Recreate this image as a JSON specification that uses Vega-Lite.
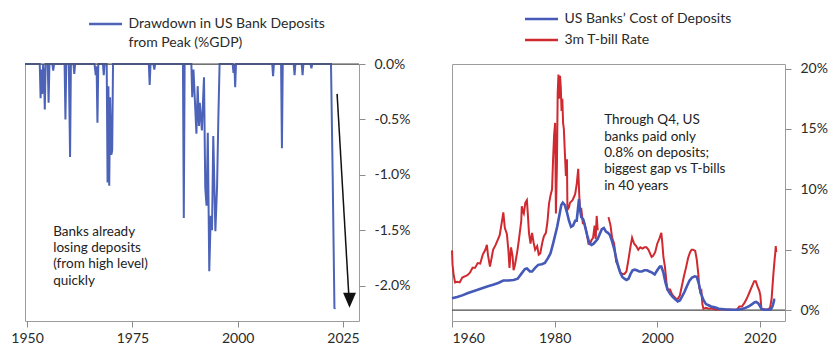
{
  "$schema": "https://vega.github.io/schema/vega-lite/v6.json",
  "padding": {"left": 10, "top": 11, "right": 0, "bottom": 0},
  "background": "white",
  "config": {
    "font": "Lato",
    "view": {"stroke": "#9c9c9c", "strokeWidth": 1},
    "axis": {"grid": false, "domain": false, "tickColor": "#8c8c8c", "tickSize": 6, "labelFont": "Lato", "labelFontSize": 14, "labelColor": "#2a2a2a", "title": null},
    "legend": {"orient": "none", "symbolType": "M-3,0L3,0", "symbolSize": 121, "symbolOffset": 9.5, "symbolStrokeWidth": 2.5, "labelFont": "Lato", "labelFontSize": 14, "labelColor": "#2a2a2a", "labelOffset": 16, "padding": 0, "labelLimit": 400, "title": null}
  },
  "datasets": {
    "drawdown": [
      {"year": 1949.5, "value": 0}, {"year": 1953.0, "value": 0}, {"year": 1953.2, "value": -0.31}, {"year": 1953.4, "value": -0.05}, {"year": 1953.6, "value": -0.27}, {"year": 1953.8, "value": 0},
      {"year": 1954.0, "value": -0.1}, {"year": 1954.2, "value": -0.41}, {"year": 1954.4, "value": 0}, {"year": 1954.9, "value": 0}, {"year": 1955.1, "value": -0.35}, {"year": 1955.3, "value": 0},
      {"year": 1956.0, "value": 0}, {"year": 1956.2, "value": -0.06}, {"year": 1956.4, "value": 0}, {"year": 1958.9, "value": 0}, {"year": 1959.1, "value": -0.5}, {"year": 1959.3, "value": 0},
      {"year": 1959.9, "value": 0}, {"year": 1960.2, "value": -0.84}, {"year": 1960.4, "value": 0}, {"year": 1961.0, "value": 0}, {"year": 1961.2, "value": -0.09}, {"year": 1961.4, "value": 0},
      {"year": 1966.0, "value": 0}, {"year": 1966.3, "value": -0.1}, {"year": 1966.5, "value": -0.02}, {"year": 1966.7, "value": -0.53}, {"year": 1966.9, "value": 0},
      {"year": 1968.0, "value": 0}, {"year": 1968.2, "value": -0.1}, {"year": 1968.4, "value": 0},
      {"year": 1968.9, "value": 0}, {"year": 1969.1, "value": -1.07}, {"year": 1969.3, "value": -0.2}, {"year": 1969.5, "value": -1.1}, {"year": 1969.7, "value": -0.3}, {"year": 1970.0, "value": -0.82}, {"year": 1970.2, "value": -0.78}, {"year": 1970.4, "value": 0},
      {"year": 1978.9, "value": 0}, {"year": 1979.1, "value": -0.19}, {"year": 1979.3, "value": 0}, {"year": 1980.0, "value": 0}, {"year": 1980.2, "value": -0.05}, {"year": 1980.4, "value": 0},
      {"year": 1987.0, "value": 0}, {"year": 1987.2, "value": -1.39}, {"year": 1987.4, "value": 0},
      {"year": 1989.0, "value": 0}, {"year": 1989.2, "value": -0.3}, {"year": 1989.5, "value": -0.05}, {"year": 1990.2, "value": -0.63}, {"year": 1990.5, "value": -0.2}, {"year": 1990.8, "value": -0.56}, {"year": 1991.0, "value": -0.35}, {"year": 1991.5, "value": -0.6}, {"year": 1991.8, "value": -0.3}, {"year": 1992.0, "value": -0.12},
      {"year": 1992.3, "value": -1.12}, {"year": 1992.6, "value": -1.28}, {"year": 1992.9, "value": -0.62}, {"year": 1993.25, "value": -1.87}, {"year": 1993.6, "value": -1.37}, {"year": 1993.9, "value": -1.5}, {"year": 1994.2, "value": -0.65}, {"year": 1994.7, "value": -1.51}, {"year": 1995.1, "value": -1.11}, {"year": 1995.4, "value": -0.5}, {"year": 1995.7, "value": 0},
      {"year": 1998.8, "value": 0}, {"year": 1999.0, "value": -0.08}, {"year": 1999.2, "value": 0}, {"year": 1999.4, "value": -0.21}, {"year": 1999.6, "value": 0},
      {"year": 2008.2, "value": 0}, {"year": 2008.4, "value": -0.11}, {"year": 2008.6, "value": 0}, {"year": 2010.3, "value": 0}, {"year": 2010.5, "value": -0.76}, {"year": 2010.7, "value": 0},
      {"year": 2013.3, "value": 0}, {"year": 2013.5, "value": -0.1}, {"year": 2013.7, "value": 0}, {"year": 2015.2, "value": 0}, {"year": 2015.4, "value": -0.1}, {"year": 2015.6, "value": 0},
      {"year": 2017.3, "value": 0}, {"year": 2017.5, "value": -0.04}, {"year": 2017.7, "value": 0},
      {"year": 2022.15, "value": 0}, {"year": 2022.55, "value": -1.01}, {"year": 2022.97, "value": -2.21}, {"year": 2023.1, "value": -2.2}
    ],
    "tbill": [
      {"year": 1960.0, "value": 4.95}, {"year": 1960.1, "value": 3.8}, {"year": 1960.3, "value": 3.0}, {"year": 1960.6, "value": 2.3}, {"year": 1961.0, "value": 2.35}, {"year": 1961.5, "value": 2.3},
      {"year": 1962.0, "value": 2.7}, {"year": 1962.5, "value": 2.8}, {"year": 1963.0, "value": 2.9}, {"year": 1963.5, "value": 3.1}, {"year": 1964.0, "value": 3.5}, {"year": 1964.5, "value": 3.5},
      {"year": 1965.0, "value": 3.9}, {"year": 1965.5, "value": 3.85}, {"year": 1966.0, "value": 4.6}, {"year": 1966.5, "value": 5.0}, {"year": 1966.8, "value": 5.4}, {"year": 1967.0, "value": 4.6},
      {"year": 1967.4, "value": 3.6}, {"year": 1967.8, "value": 4.5}, {"year": 1968.0, "value": 5.0}, {"year": 1968.5, "value": 5.4}, {"year": 1968.9, "value": 5.8}, {"year": 1969.3, "value": 6.2},
      {"year": 1969.6, "value": 7.0}, {"year": 1969.9, "value": 7.8}, {"year": 1970.0, "value": 8.1}, {"year": 1970.3, "value": 6.8}, {"year": 1970.7, "value": 6.3}, {"year": 1971.0, "value": 4.9},
      {"year": 1971.2, "value": 3.5}, {"year": 1971.5, "value": 5.2}, {"year": 1971.8, "value": 4.5}, {"year": 1972.0, "value": 3.3}, {"year": 1972.3, "value": 3.8}, {"year": 1972.7, "value": 4.8},
      {"year": 1973.0, "value": 5.7}, {"year": 1973.5, "value": 7.4}, {"year": 1973.6, "value": 8.6}, {"year": 1973.8, "value": 8.2}, {"year": 1974.0, "value": 8.0}, {"year": 1974.3, "value": 8.9},
      {"year": 1974.6, "value": 9.1}, {"year": 1974.8, "value": 7.8}, {"year": 1975.0, "value": 6.4}, {"year": 1975.3, "value": 5.5}, {"year": 1975.6, "value": 6.4}, {"year": 1975.9, "value": 5.6},
      {"year": 1976.2, "value": 5.0}, {"year": 1976.6, "value": 5.3}, {"year": 1976.9, "value": 4.6}, {"year": 1977.2, "value": 4.7}, {"year": 1977.6, "value": 5.6}, {"year": 1977.9, "value": 6.1},
      {"year": 1978.3, "value": 6.4}, {"year": 1978.6, "value": 7.3}, {"year": 1978.9, "value": 8.8}, {"year": 1979.2, "value": 9.5}, {"year": 1979.5, "value": 10.0}, {"year": 1979.7, "value": 12.5},
      {"year": 1979.9, "value": 14.5}, {"year": 1980.1, "value": 15.5}, {"year": 1980.25, "value": 8.0}, {"year": 1980.45, "value": 12.0}, {"year": 1980.6, "value": 18.0}, {"year": 1980.75, "value": 19.5},
      {"year": 1980.9, "value": 17.5}, {"year": 1981.05, "value": 19.4}, {"year": 1981.2, "value": 18.5}, {"year": 1981.35, "value": 16.5}, {"year": 1981.5, "value": 17.5}, {"year": 1981.65, "value": 15.5},
      {"year": 1981.8, "value": 15.0}, {"year": 1982.0, "value": 13.0}, {"year": 1982.2, "value": 11.1}, {"year": 1982.4, "value": 12.5}, {"year": 1982.5, "value": 8.3}, {"year": 1982.8, "value": 8.5},
      {"year": 1983.0, "value": 8.9}, {"year": 1983.5, "value": 9.1}, {"year": 1984.0, "value": 9.6}, {"year": 1984.3, "value": 10.4}, {"year": 1984.6, "value": 11.7}, {"year": 1984.9, "value": 8.5},
      {"year": 1985.2, "value": 8.4}, {"year": 1985.5, "value": 7.2}, {"year": 1985.8, "value": 7.2}, {"year": 1986.2, "value": 6.5}, {"year": 1986.6, "value": 5.5}, {"year": 1986.9, "value": 5.5},
      {"year": 1987.2, "value": 5.8}, {"year": 1987.5, "value": 6.0}, {"year": 1987.8, "value": 7.0}, {"year": 1988.0, "value": 5.9}, {"year": 1988.2, "value": 7.8}, {"year": 1988.4, "value": 6.6},
      {"year": 1989.4, "value": null},
      {"year": 1990.5, "value": 7.7}, {"year": 1990.9, "value": 7.0}, {"year": 1991.2, "value": 6.0}, {"year": 1991.6, "value": 5.5}, {"year": 1992.0, "value": 4.0}, {"year": 1992.4, "value": 3.7},
      {"year": 1992.8, "value": 3.1}, {"year": 1993.2, "value": 3.0}, {"year": 1993.6, "value": 3.0}, {"year": 1994.0, "value": 3.2}, {"year": 1994.4, "value": 4.2}, {"year": 1994.8, "value": 5.3},
      {"year": 1995.1, "value": 6.0}, {"year": 1995.5, "value": 5.5}, {"year": 1995.9, "value": 5.3}, {"year": 1996.3, "value": 5.0}, {"year": 1996.7, "value": 5.2}, {"year": 1997.1, "value": 5.1},
      {"year": 1997.5, "value": 5.2}, {"year": 1997.9, "value": 5.2}, {"year": 1998.3, "value": 5.0}, {"year": 1998.7, "value": 4.6}, {"year": 1998.9, "value": 4.4}, {"year": 1999.2, "value": 4.5},
      {"year": 1999.6, "value": 4.8}, {"year": 2000.0, "value": 5.5}, {"year": 2000.4, "value": 5.9}, {"year": 2000.8, "value": 6.4}, {"year": 2001.0, "value": 5.5}, {"year": 2001.2, "value": 4.4},
      {"year": 2001.5, "value": 3.6}, {"year": 2001.8, "value": 2.3}, {"year": 2002.0, "value": 1.7}, {"year": 2002.5, "value": 1.7}, {"year": 2002.9, "value": 1.3}, {"year": 2003.3, "value": 1.1},
      {"year": 2003.7, "value": 0.95}, {"year": 2004.0, "value": 0.93}, {"year": 2004.4, "value": 1.2}, {"year": 2004.8, "value": 2.0}, {"year": 2005.2, "value": 2.8}, {"year": 2005.6, "value": 3.5},
      {"year": 2006.0, "value": 4.3}, {"year": 2006.4, "value": 4.8}, {"year": 2006.7, "value": 5.0}, {"year": 2007.0, "value": 5.0}, {"year": 2007.4, "value": 4.9}, {"year": 2007.7, "value": 4.2},
      {"year": 2008.0, "value": 3.0}, {"year": 2008.2, "value": 1.9}, {"year": 2008.4, "value": 1.5}, {"year": 2008.6, "value": 1.6}, {"year": 2008.8, "value": 0.5}, {"year": 2009.0, "value": 0.1},
      {"year": 2009.5, "value": 0.2}, {"year": 2010.0, "value": 0.12}, {"year": 2010.5, "value": 0.15}, {"year": 2011.0, "value": 0.1}, {"year": 2011.5, "value": 0.05}, {"year": 2012.0, "value": 0.05},
      {"year": 2012.5, "value": 0.09}, {"year": 2013.0, "value": 0.07}, {"year": 2013.5, "value": 0.04}, {"year": 2014.0, "value": 0.04}, {"year": 2014.5, "value": 0.03}, {"year": 2015.0, "value": 0.03},
      {"year": 2015.5, "value": 0.02}, {"year": 2016.0, "value": 0.3}, {"year": 2016.5, "value": 0.3}, {"year": 2017.0, "value": 0.6}, {"year": 2017.5, "value": 1.0}, {"year": 2018.0, "value": 1.5},
      {"year": 2018.5, "value": 2.0}, {"year": 2018.9, "value": 2.4}, {"year": 2019.2, "value": 2.4}, {"year": 2019.6, "value": 1.9}, {"year": 2019.9, "value": 1.6}, {"year": 2020.1, "value": 1.2},
      {"year": 2020.3, "value": 0.1}, {"year": 2020.6, "value": 0.1}, {"year": 2021.0, "value": 0.05}, {"year": 2021.5, "value": 0.05}, {"year": 2022.0, "value": 0.2}, {"year": 2022.3, "value": 1.0},
      {"year": 2022.6, "value": 2.8}, {"year": 2022.9, "value": 4.3}, {"year": 2023.0, "value": 4.7}, {"year": 2023.1, "value": 5.3}, {"year": 2023.2, "value": 4.8}
    ],
    "deposits": [
      {"year": 1960.0, "value": 0.98}, {"year": 1961.0, "value": 1.08}, {"year": 1962.0, "value": 1.22}, {"year": 1963.0, "value": 1.4}, {"year": 1964.0, "value": 1.55}, {"year": 1965.0, "value": 1.68},
      {"year": 1966.0, "value": 1.83}, {"year": 1967.0, "value": 1.98}, {"year": 1968.0, "value": 2.1}, {"year": 1969.0, "value": 2.25}, {"year": 1970.0, "value": 2.45}, {"year": 1971.0, "value": 2.45},
      {"year": 1972.0, "value": 2.5}, {"year": 1972.8, "value": 2.6}, {"year": 1973.5, "value": 3.0}, {"year": 1974.2, "value": 3.4}, {"year": 1974.6, "value": 3.45}, {"year": 1975.2, "value": 3.2},
      {"year": 1975.6, "value": 3.2}, {"year": 1976.2, "value": 3.5}, {"year": 1976.8, "value": 3.75}, {"year": 1977.5, "value": 3.8}, {"year": 1978.1, "value": 3.9}, {"year": 1978.7, "value": 4.3},
      {"year": 1979.2, "value": 4.7}, {"year": 1979.7, "value": 5.5}, {"year": 1980.1, "value": 6.2}, {"year": 1980.5, "value": 6.9}, {"year": 1980.9, "value": 7.8}, {"year": 1981.3, "value": 8.7},
      {"year": 1981.6, "value": 8.9}, {"year": 1982.0, "value": 8.7}, {"year": 1982.4, "value": 8.1}, {"year": 1982.8, "value": 7.4}, {"year": 1983.2, "value": 6.9}, {"year": 1983.6, "value": 7.0},
      {"year": 1984.0, "value": 7.4}, {"year": 1984.3, "value": 7.4}, {"year": 1984.6, "value": 8.6}, {"year": 1984.75, "value": 9.2}, {"year": 1984.9, "value": 8.4}, {"year": 1985.2, "value": 7.7},
      {"year": 1985.6, "value": 7.5}, {"year": 1986.0, "value": 6.8}, {"year": 1986.4, "value": 6.1}, {"year": 1986.8, "value": 5.5}, {"year": 1987.2, "value": 5.4}, {"year": 1987.6, "value": 5.5},
      {"year": 1988.0, "value": 5.7}, {"year": 1988.4, "value": 5.9}, {"year": 1988.8, "value": 6.3}, {"year": 1989.2, "value": 6.7}, {"year": 1989.6, "value": 6.8}, {"year": 1990.0, "value": 6.5},
      {"year": 1990.4, "value": 6.4}, {"year": 1990.8, "value": 6.2}, {"year": 1991.2, "value": 5.7}, {"year": 1991.6, "value": 5.1}, {"year": 1992.0, "value": 4.3}, {"year": 1992.4, "value": 3.6},
      {"year": 1992.8, "value": 3.1}, {"year": 1993.2, "value": 2.75}, {"year": 1993.6, "value": 2.6}, {"year": 1994.0, "value": 2.5}, {"year": 1994.4, "value": 2.6}, {"year": 1994.8, "value": 3.0},
      {"year": 1995.2, "value": 3.3}, {"year": 1995.6, "value": 3.35}, {"year": 1996.0, "value": 3.3}, {"year": 1996.5, "value": 3.2}, {"year": 1997.0, "value": 3.2}, {"year": 1997.5, "value": 3.3},
      {"year": 1998.0, "value": 3.3}, {"year": 1998.5, "value": 3.2}, {"year": 1999.0, "value": 3.1}, {"year": 1999.5, "value": 2.95}, {"year": 2000.0, "value": 3.3}, {"year": 2000.5, "value": 3.6},
      {"year": 2000.8, "value": 3.6}, {"year": 2001.2, "value": 3.1}, {"year": 2001.6, "value": 2.3}, {"year": 2002.0, "value": 1.7}, {"year": 2002.5, "value": 1.35}, {"year": 2003.0, "value": 1.1},
      {"year": 2003.5, "value": 0.9}, {"year": 2004.0, "value": 0.72}, {"year": 2004.4, "value": 0.8}, {"year": 2004.8, "value": 1.1}, {"year": 2005.3, "value": 1.5}, {"year": 2005.8, "value": 2.0},
      {"year": 2006.3, "value": 2.45}, {"year": 2006.8, "value": 2.7}, {"year": 2007.3, "value": 2.8}, {"year": 2007.7, "value": 2.75}, {"year": 2008.1, "value": 2.2}, {"year": 2008.5, "value": 1.4},
      {"year": 2009.0, "value": 0.85}, {"year": 2009.5, "value": 0.5}, {"year": 2010.0, "value": 0.4}, {"year": 2010.5, "value": 0.3}, {"year": 2011.0, "value": 0.25}, {"year": 2011.5, "value": 0.2},
      {"year": 2012.0, "value": 0.12}, {"year": 2012.5, "value": 0.1}, {"year": 2013.0, "value": 0.07}, {"year": 2013.5, "value": 0.05}, {"year": 2014.0, "value": 0.04}, {"year": 2014.5, "value": 0.03},
      {"year": 2015.0, "value": 0.03}, {"year": 2015.5, "value": 0.04}, {"year": 2016.0, "value": 0.06}, {"year": 2016.5, "value": 0.1}, {"year": 2017.0, "value": 0.15}, {"year": 2017.5, "value": 0.25},
      {"year": 2018.0, "value": 0.35}, {"year": 2018.5, "value": 0.5}, {"year": 2019.0, "value": 0.65}, {"year": 2019.3, "value": 0.68}, {"year": 2019.7, "value": 0.55}, {"year": 2020.0, "value": 0.35},
      {"year": 2020.3, "value": 0.1}, {"year": 2020.8, "value": 0.05}, {"year": 2021.3, "value": 0.03}, {"year": 2021.8, "value": 0.03}, {"year": 2022.2, "value": 0.1}, {"year": 2022.5, "value": 0.35},
      {"year": 2022.8, "value": 0.85}, {"year": 2023.0, "value": 0.85}
    ]
  },
  "hconcat": [
    {
      "width": 334,
      "height": 257,
      "layer": [
        {
          "data": {"name": "drawdown"},
          "mark": {"type": "line", "strokeWidth": 2},
          "encoding": {
            "x": {"field": "year", "type": "quantitative", "scale": {"domain": [1949.5, 2028.8], "nice": false, "zero": false}, "axis": {"values": [1950, 1975, 2000, 2025], "format": "d", "labelPadding": 4}},
            "y": {"field": "value", "type": "quantitative", "scale": {"domain": [-2.32, 0], "nice": false}, "axis": {"orient": "right", "values": [0, -0.5, -1, -1.5, -2], "labelPadding": 9, "labelExpr": "(datum.value < 0 ? '-' : '') + format(abs(datum.value), '.1f') + '%'"}},
            "color": {"datum": "Drawdown in US Bank Deposits from Peak (%GDP)", "scale": {"range": ["#4d63b8"]}, "legend": {"legendX": 64, "legendY": -47, "labelExpr": "['Drawdown in US Bank Deposits', 'from Peak (%GDP)']", "encode": {"labels": {"enter": {"lineHeight": {"value": 19}}, "update": {"lineHeight": {"value": 19}}}}}}
          }
        },
        {"data": {"values": [{}]}, "mark": {"type": "rule", "color": "#4a4a4a", "strokeWidth": 1.2}, "encoding": {"y": {"datum": 0}}},
        {"data": {"values": [{}]}, "mark": {"type": "rule", "color": "#111111", "strokeWidth": 1.5}, "encoding": {"x": {"datum": 2023.6}, "y": {"datum": -0.27}, "x2": {"datum": 2026.4}, "y2": {"datum": -2.1}}},
        {"data": {"values": [{}]}, "mark": {"type": "point", "shape": "M-0.43,-1L0.43,-1L0,0Z", "size": 900, "filled": true, "color": "#111111", "opacity": 1}, "encoding": {"x": {"datum": 2026.55}, "y": {"datum": -2.2}}},
        {"data": {"values": [{}]}, "mark": {"type": "text", "align": "left", "baseline": "alphabetic", "fontSize": 13.5, "lineHeight": 16.3, "color": "#222222", "text": ["Banks already", "losing deposits", "(from high level)", "quickly"]}, "encoding": {"x": {"datum": 1956.2}, "y": {"datum": -1.551}}}
      ]
    },
    {
      "width": 333,
      "height": 257,
      "layer": [
        {"data": {"values": [{}]}, "mark": {"type": "rule", "color": "#4a4a4a", "strokeWidth": 1.2}, "encoding": {"y": {"datum": 0}}},
        {
          "data": {"name": "tbill"},
          "mark": {"type": "line", "strokeWidth": 2, "invalid": "break-paths-show-domains"},
          "encoding": {
            "x": {"field": "year", "type": "quantitative", "scale": {"domain": [1960, 2024.9], "nice": false, "zero": false}, "axis": {"values": [1960, 1980, 2000, 2020], "format": "d", "labelPadding": 4}},
            "y": {"field": "value", "type": "quantitative", "scale": {"domain": [-0.9, 20.38], "nice": false, "zero": false}, "axis": {"orient": "right", "values": [0, 5, 10, 15, 20], "labelPadding": 9, "labelExpr": "format(datum.value, 'd') + '%'"}},
            "color": {"datum": "3m T-bill Rate", "scale": {"domain": ["US Banks’ Cost of Deposits", "3m T-bill Rate"], "range": ["#4459b8", "#d0292f"]}, "legend": {"legendX": 73, "legendY": -52, "rowPadding": 7}}
          }
        },
        {
          "data": {"name": "deposits"},
          "mark": {"type": "line", "strokeWidth": 2.6},
          "encoding": {"x": {"field": "year", "type": "quantitative"}, "y": {"field": "value", "type": "quantitative"}, "color": {"datum": "US Banks’ Cost of Deposits"}}
        },
        {"data": {"values": [{}]}, "mark": {"type": "text", "align": "left", "baseline": "alphabetic", "fontSize": 13.5, "lineHeight": 16.3, "color": "#222222", "text": ["Through Q4, US", "banks paid only", "0.8% on deposits;", "biggest gap vs T-bills", "in 40 years"]}, "encoding": {"x": {"datum": 1989.65}, "y": {"datum": 15.38}}}
      ]
    }
  ],
  "spacing": 93,
  "bounds": "flush",
  "resolve": {"scale": {"color": "independent", "x": "independent", "y": "independent"}, "legend": {"color": "independent"}}
}
